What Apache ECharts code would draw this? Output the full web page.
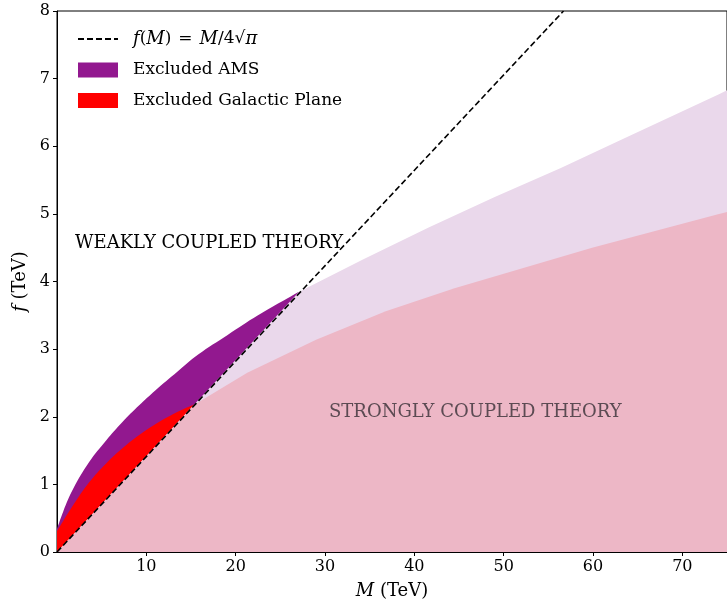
<!DOCTYPE html>
<html>
<head>
<meta charset="utf-8">
<script src="https://cdn.jsdelivr.net/npm/echarts@6/dist/echarts.min.js"></script>
<style>html,body{margin:0;padding:0;background:#fff;}#c{width:727px;height:605px;}</style>
</head>
<body>
<div id="c"></div>
<script>
// ---- data ----
var xTicks = [10, 20, 30, 40, 50, 60, 70];
var yTicks = [0, 1, 2, 3, 4, 5, 6, 7, 8];
// AMS exclusion upper boundary (above the f = M/4sqrt(pi) line)
var amsM = [0, 0.7, 1.8, 3.6, 5.5, 7.3, 9.2, 11.0, 13.5, 15.8, 19.1, 22.5, 27.1];
var amsF = [0.34, 0.60, 0.93, 1.33, 1.65, 1.92, 2.17, 2.39, 2.67, 2.92, 3.21, 3.50, 3.85];
// AMS boundary continued below the line (light region)
var amsLowM = [27.1, 29.1, 34.3, 41.6, 49.0, 56.4, 63.7, 74.1, 76];
var amsLowF = [3.85, 3.98, 4.33, 4.80, 5.25, 5.68, 6.13, 6.77, 6.89];
// Galactic plane exclusion upper boundary (above the line)
var gpM = [0, 0.7, 1.8, 3.6, 5.5, 7.3, 9.2, 11.0, 13.3, 15.5];
var gpF = [0.31, 0.46, 0.69, 1.03, 1.31, 1.53, 1.73, 1.89, 2.06, 2.19];
// Galactic plane boundary continued below the line
var gpLowM = [15.5, 21.3, 29.0, 36.8, 44.5, 52.2, 59.9, 74.1, 76];
var gpLowF = [2.19, 2.65, 3.14, 3.56, 3.90, 4.20, 4.50, 5.00, 5.06];
// the line f(M) = M / 4 sqrt(pi), end points
var lineM = [0, 56.7];
var lineF = [0, 8.0];

function pts(xs, ys) { return xs.map(function (x, i) { return [x, ys[i]]; }); }

var C_PURPLE = '#92188f', C_RED = '#ff0000', C_LPURPLE = '#ead8eb', C_PINK = '#edb7c6';
var SERIF = 'DejaVu Serif';

var chart = echarts.init(document.getElementById('c'), null, {renderer: 'canvas'});
var lineName = 'fline', amsName = 'Excluded AMS', gpName = 'Excluded Galactic Plane';

function area(name, data, color, smooth, z) {
  return {
    type: 'line', name: name, data: data, symbol: 'none', smooth: smooth,
    z: z, silent: true,
    lineStyle: {width: 0, color: color}, itemStyle: {color: color},
    areaStyle: {color: color, opacity: 1}
  };
}

// light regions: straight part along the line, then the boundary curve
var amsLowAll = [[lineM[0], lineF[0]]].concat(pts(amsLowM, amsLowF));
var gpLowAll = [[lineM[0], lineF[0]]].concat(pts(gpLowM, gpLowF));

chart.setOption({
  animation: false,
  grid: {left: 57, top: 11, width: 677, height: 542, show: true, borderColor: '#000', borderWidth: 1, backgroundColor: 'transparent'},
  xAxis: {
    type: 'value', min: 0, max: 75, interval: 10,
    name: '{i|M} (TeV)', nameLocation: 'middle', nameGap: 30,
    nameTextStyle: {fontFamily: SERIF, fontSize: 18, color: '#000',
      rich: {i: {fontFamily: SERIF, fontStyle: 'italic', fontSize: 18, color: '#000'}}},
    axisLine: {show: true, onZero: false, lineStyle: {color: '#000', width: 1}},
    axisTick: {show: true, inside: false, length: 4, lineStyle: {color: '#000'}},
    axisLabel: {fontFamily: SERIF, fontSize: 16, color: '#000', margin: 7, showMinLabel: false, showMaxLabel: false,
      formatter: function (v) { return xTicks.indexOf(v) >= 0 ? String(v) : ''; }},
    splitLine: {show: false}
  },
  yAxis: {
    type: 'value', min: 0, max: 8, interval: 1,
    name: '{i|f} (TeV)', nameLocation: 'middle', nameGap: 25, nameRotate: 90,
    nameTextStyle: {fontFamily: SERIF, fontSize: 18, color: '#000',
      rich: {i: {fontFamily: SERIF, fontStyle: 'italic', fontSize: 18, color: '#000'}}},
    axisLine: {show: true, lineStyle: {color: '#000', width: 1}},
    axisTick: {show: true, inside: false, length: 4, lineStyle: {color: '#000'}},
    axisLabel: {fontFamily: SERIF, fontSize: 16, color: '#000', margin: 7,
      formatter: function (v) { return yTicks.indexOf(v) >= 0 ? String(v) : ''; }},
    splitLine: {show: false}
  },
  legend: {
    left: 72, top: 25, orient: 'vertical', itemWidth: 40, itemHeight: 15, itemGap: 13.5,
    selectedMode: false,
    textStyle: {fontFamily: SERIF, fontSize: 17, color: '#000', lineHeight: 15, padding: [0, 0, 0, 10],
      rich: {i: {fontFamily: SERIF, fontStyle: 'italic', fontSize: 18, color: '#000', lineHeight: 15},
             s: {fontFamily: SERIF, fontSize: 17, color: '#000', lineHeight: 15, padding: [0, 7, 0, 7]}}},
    formatter: function (n) { return n === lineName ? '{i|f}({i|M}){s|=}{i|M}/4√{i|π}' : n; },
    data: [
      {name: lineName, itemStyle: {opacity: 0}},
      {name: amsName, icon: 'rect', itemStyle: {color: C_PURPLE, borderWidth: 0}},
      {name: gpName, icon: 'rect', itemStyle: {color: C_RED, borderWidth: 0}}
    ]
  },
  series: [
    area(amsName, pts(amsM, amsF), C_PURPLE, 0.4, 1),
    area(gpName, pts(gpM, gpF), C_RED, 0.4, 2),
    area('amsLow', amsLowAll, C_LPURPLE, false, 3),
    area('gpLow', gpLowAll, C_PINK, false, 4),
    {
      type: 'line', name: lineName, data: pts(lineM, lineF), symbol: 'none', z: 10, silent: true,
      lineStyle: {color: '#000', width: 1.6, type: [6, 3]}, itemStyle: {color: '#000'}
    }
  ],
  graphic: [
    {type: 'text', left: 75, top: 234, z: 20, silent: true,
      style: {text: 'WEAKLY COUPLED THEORY', font: '18px "DejaVu Serif"', fill: '#000'}},
    {type: 'text', left: 329, top: 403, z: 20, silent: true,
      style: {text: 'STRONGLY COUPLED THEORY', font: '18px "DejaVu Serif"', fill: '#5c4b53'}}
  ]
});
</script>
</body>
</html>
